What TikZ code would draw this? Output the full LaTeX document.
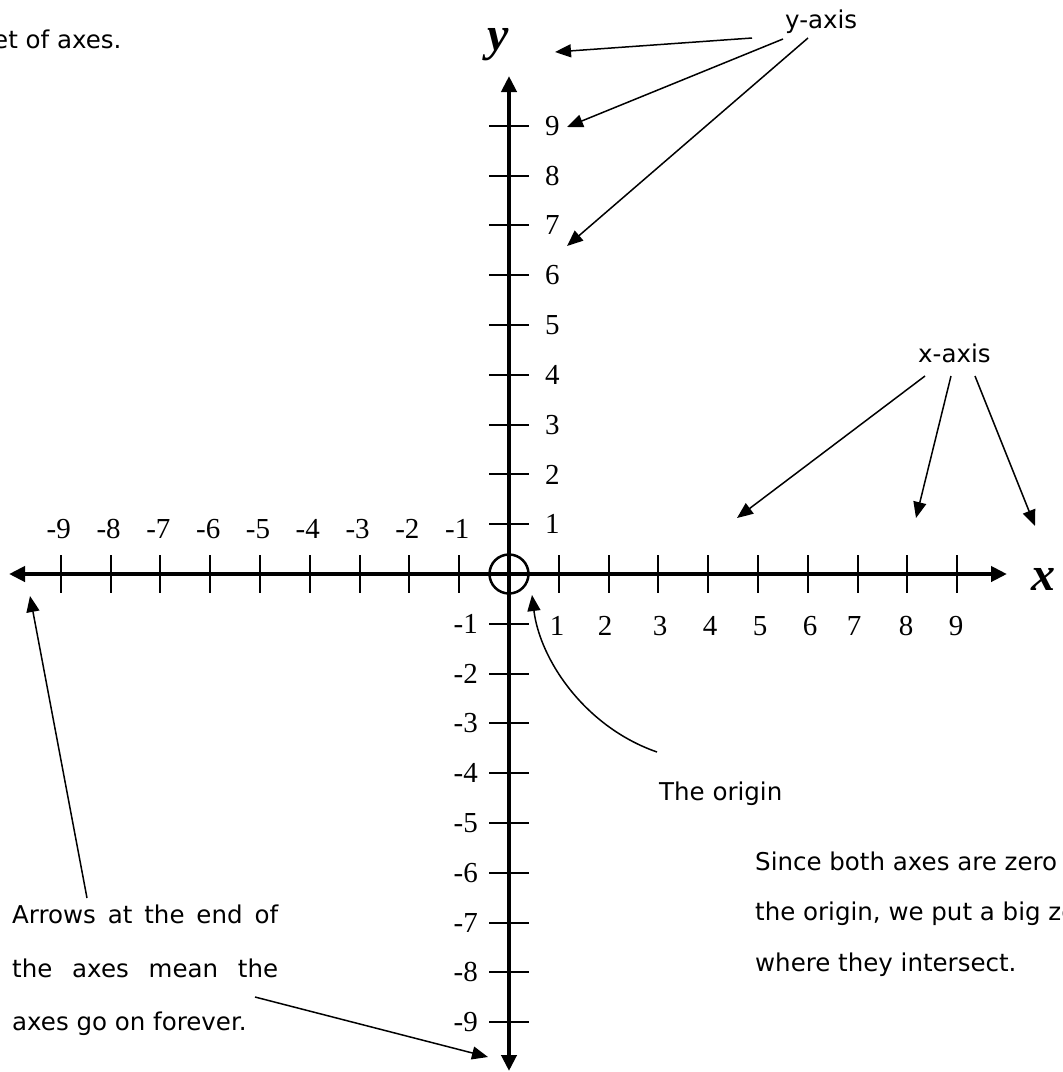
\documentclass[tikz,border=0pt]{standalone}
\usepackage{fontspec}
\setmainfont{Liberation Serif}
\newfontfamily\annfont{DejaVu Sans}
\usetikzlibrary{arrows.meta}
\begin{document}
\begin{tikzpicture}[x=1pt,y=-1pt,
  axisline/.style={line width=4.5pt,{Triangle[length=16pt,width=15pt]}-{Triangle[length=16pt,width=15pt]}},
  tickmark/.style={line width=2pt},
  num/.style={font=\fontsize{29}{29}\selectfont, inner sep=0pt},
  ann/.style={font=\annfont\fontsize{24.5}{24.5}\selectfont, inner sep=0pt, anchor=base west},
  pointer/.style={line width=1.5pt,-{Triangle[length=16pt,width=13pt]}},
  axlabel/.style={font=\fontsize{48}{48}\selectfont\bfseries\itshape, inner sep=0pt, anchor=base}
]
\useasboundingbox (0,0) rectangle (1063,1072);

% axes
\coordinate (O) at (509,574);
\coordinate (xl) at (9,574);
\coordinate (xr) at (1007,574);
\coordinate (yt) at (509,76);
\coordinate (yb) at (509,1071);
\draw[axisline] (xl) -- (xr);
\draw[axisline] (yb) -- (yt);

% ticks
\foreach \k in {-9,...,-1,1,2,...,9} {
  \draw[tickmark] ({509+49.8*\k},555) -- ({509+49.8*\k},593);
  \draw[tickmark] (489,{574-49.8*\k}) -- (529,{574-49.8*\k});
}

% negative x labels (above axis)
\foreach \k in {-9,...,-1} {
  \node[num] (xn\k) at ({507+49.8*\k},529) {\k};
}
% positive x labels (below axis)
\foreach \k/\px in {1/557,2/605,3/660,4/710,5/760,6/810,7/854,8/906,9/956} {
  \node[num] (xp\k) at (\px,626) {\k};
}
% positive y labels
\foreach \k in {1,...,9} {
  \node[num,anchor=west] (yp\k) at (545,{574-49.8*\k}) {\k};
}
% negative y labels
\foreach \k in {-9,...,-1} {
  \node[num,anchor=east] (yn\k) at (478,{574-49.8*\k}) {\k};
}

% origin circle
\draw[line width=2.5pt] (O) circle[radius=19.5];

% axis letters
\node[axlabel] (ylet) at (498,50) {y};
\node[axlabel] (xlet) at (1043,590) {x};

% annotation texts
\node[ann] (topleft) at (-7,48) {et of axes.};
\node[ann] (ylbl) at (785,28) {y-axis};
\node[ann] (xlbl) at (918,362) {x-axis};
\node[ann] (orig) at (659,800) {The origin};
\node[ann] (arr1) at (12,923) {\makebox[266pt][s]{Arrows at the end of}};
\node[ann] (arr2) at (12,977) {\makebox[266pt][s]{the axes mean the}};
\node[ann] (arr3) at (12,1030) {axes go on forever.};
\node[ann] (since1) at (755,870) {Since both axes are zero};
\node[ann] (since2) at (755,920) {the origin, we put a big zero};
\node[ann] (since3) at (755,971) {where they intersect.};

% y-axis pointers
\coordinate (ya1) at (752,38);  \coordinate (yt1) at (555,52);
\coordinate (ya2) at (783,39);  \coordinate (yt2) at (567,127);
\coordinate (ya3) at (808,38);  \coordinate (yt3) at (567,246);
\draw[pointer] (ya1) -- (yt1);
\draw[pointer] (ya2) -- (yt2);
\draw[pointer] (ya3) -- (yt3);

% x-axis pointers
\coordinate (xa1) at (925,376); \coordinate (xt1) at (737,518);
\coordinate (xa2) at (951,376); \coordinate (xt2) at (916,518);
\coordinate (xa3) at (975,376); \coordinate (xt3) at (1035,526);
\draw[pointer] (xa1) -- (xt1);
\draw[pointer] (xa2) -- (xt2);
\draw[pointer] (xa3) -- (xt3);

% origin pointer
\coordinate (oa) at (657,752); \coordinate (ot) at (532,595);
\draw[pointer] (oa) .. controls (585,727) and (540,660) .. (ot);

% "arrows at the end" pointers
\coordinate (la) at (87,898); \coordinate (lt) at (30,596);
\draw[pointer] (la) -- (lt);
\coordinate (ba) at (255,997); \coordinate (bt) at (488,1057);
\draw[pointer] (ba) -- (bt);
\end{tikzpicture}
\end{document}
